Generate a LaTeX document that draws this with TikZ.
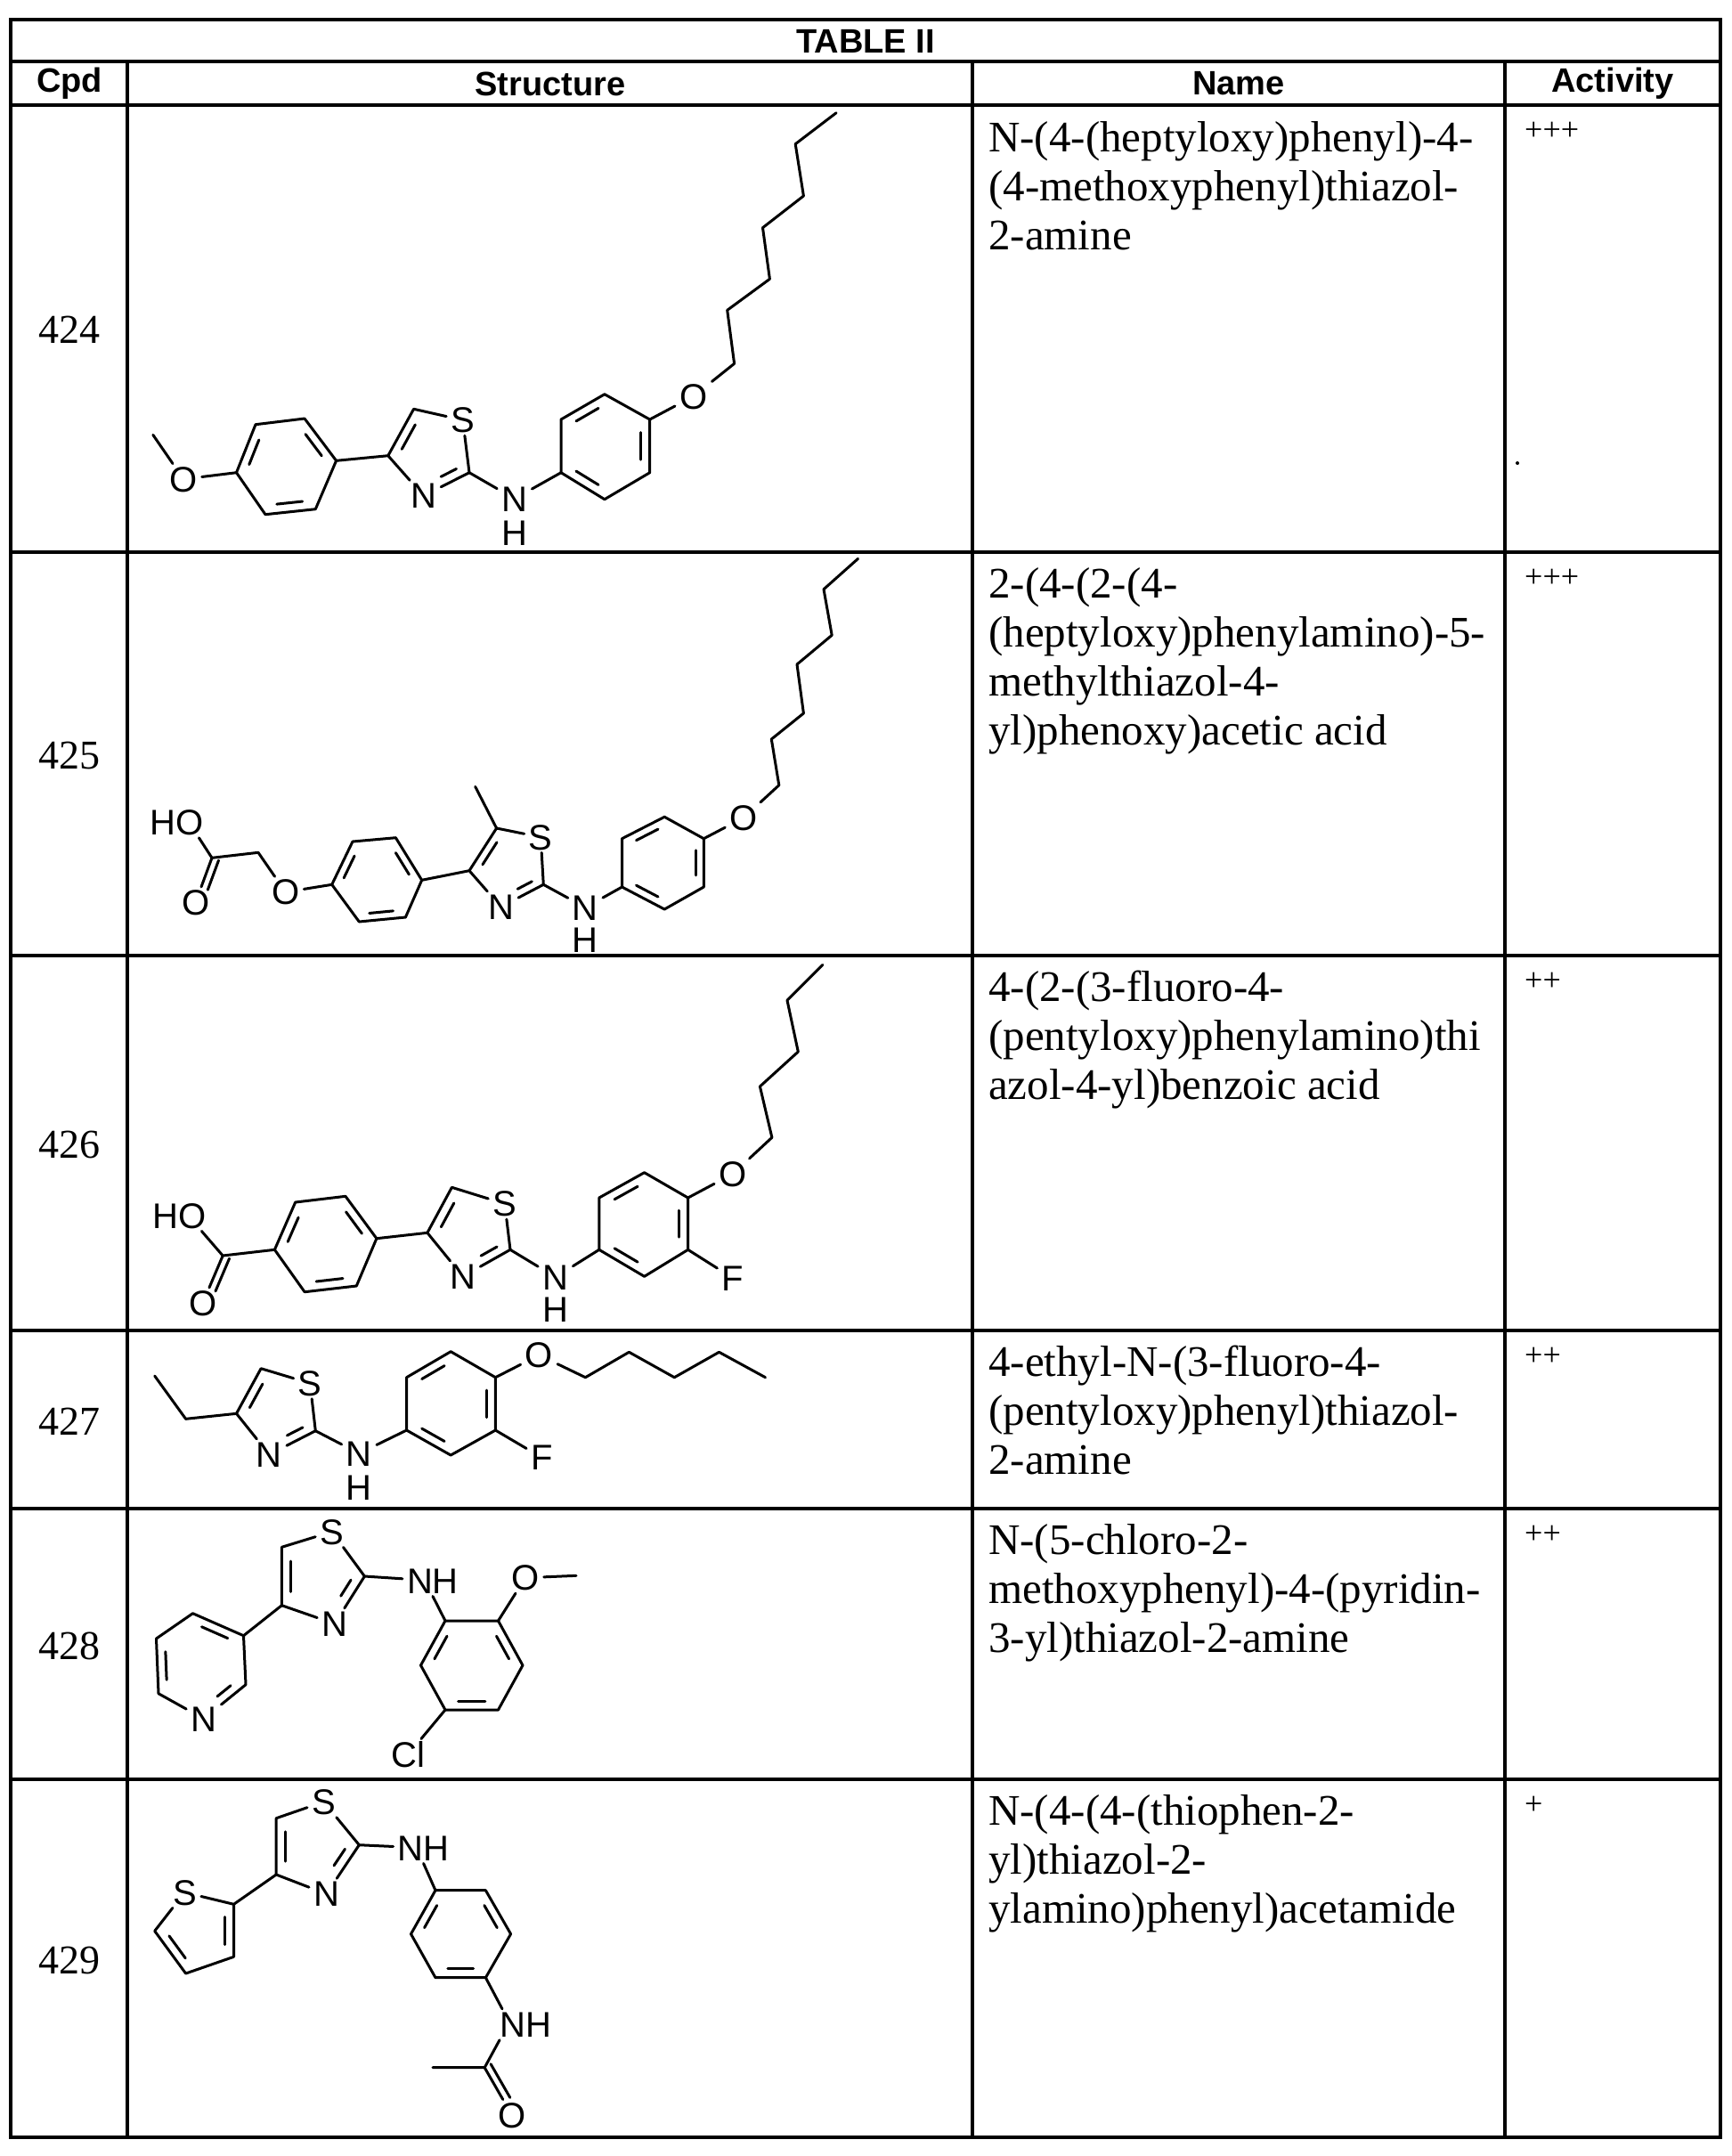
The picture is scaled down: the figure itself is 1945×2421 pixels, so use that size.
\documentclass[tikz,border=0pt]{standalone}
\usepackage{fontspec}
\setmainfont{Liberation Serif}
\newfontfamily\arialf{Liberation Sans}
\usetikzlibrary{calc}
\newcommand\hdb[3]{\draw[bond] ($(#1)!0.18!(#2)!0.2!(#3)$) -- ($(#1)!0.82!(#2)!0.2!(#3)$);}
\newcommand\pdb[5]{\draw[bond] ($(#1)!#4!(#2)!0.25!(#3)$) -- ($(#1)!#5!(#2)!0.25!(#3)$);}
\newcommand\odb[2]{\draw[bond,shorten >=18pt] ($(#1)!8pt!90:(#2)$) -- ($(#2)!8pt!-90:(#1)$);}
\newcommand\namef{\fontsize{49}{55}\selectfont}
\newcommand\cpdf{\fontsize{46}{50}\selectfont}
\newcommand\actf{\fontsize{36}{40}\selectfont}
\newcommand\headf{\arialf\bfseries\fontsize{38}{42}\selectfont}
\newcommand\atomf{\arialf\fontsize{40}{44}\selectfont}
\begin{document}
\begin{tikzpicture}[x=1pt,y=-1pt,
  bond/.style={line width=3pt,line join=round,line cap=round},
  rule/.style={line width=3.5pt},
  atom/.style={font=\atomf,inner xsep=5pt,inner ysep=3pt,text height=28.5pt,text depth=0pt},
  namebox/.style={font=\namef,align=left,anchor=north west,inner sep=0pt},
  actbox/.style={font=\actf,anchor=base west,inner sep=0pt},
  cpd/.style={font=\cpdf,inner sep=0pt},
  head/.style={font=\headf,inner sep=0pt}]
\useasboundingbox (0,0) rectangle (1945,2421);
% ---------- table ----------
\draw[rule] (12,22) rectangle (1932,2400);
\foreach \yy in {69,118,620,1073,1494,1694,1998} \draw[rule] (12,\yy) -- (1932,\yy);
\foreach \xx in {143,1092,1690} \draw[rule] (\xx,69) -- (\xx,2400);
\node[head] (title) at (972,46) {TABLE II};
\node[head] (hc) at (78,94) {Cpd};
\node[head] (hs) at (618,94) {Structure};
\node[head] (hn) at (1391,94) {Name};
\node[head] (ha) at (1811,94) {Activity};
% cpd numbers
\node[cpd] (c424) at (78,370) {424};
\node[cpd] (c425) at (78,848) {425};
\node[cpd] (c426) at (78,1285) {426};
\node[cpd] (c427) at (78,1596) {427};
\node[cpd] (c428) at (78,1848) {428};
\node[cpd] (c429) at (78,2201) {429};
% names
\node[namebox] (n424) at (1110,136) {N-(4-(heptyloxy)phenyl)-4-\\(4-methoxyphenyl)thiazol-\\2-amine};
\node[namebox] (n425) at (1110,637) {2-(4-(2-(4-\\(heptyloxy)phenylamino)-5-\\methylthiazol-4-\\yl)phenoxy)acetic acid};
\node[namebox] (n426) at (1110,1090) {4-(2-(3-fluoro-4-\\(pentyloxy)phenylamino)thi\\azol-4-yl)benzoic acid};
\node[namebox] (n427) at (1110,1511) {4-ethyl-N-(3-fluoro-4-\\(pentyloxy)phenyl)thiazol-\\2-amine};
\node[namebox] (n428) at (1110,1711) {N-(5-chloro-2-\\methoxyphenyl)-4-(pyridin-\\3-yl)thiazol-2-amine};
\node[namebox] (n429) at (1110,2015) {N-(4-(4-(thiophen-2-\\yl)thiazol-2-\\ylamino)phenyl)acetamide};
% activity
\node[actbox] (a424) at (1712,157) {+++};
\node[actbox] (a425) at (1712,659) {+++};
\node[actbox] (a426) at (1712,1112) {++};
\node[actbox] (a427) at (1712,1533) {++};
\node[actbox] (a428) at (1712,1733) {++};
\node[actbox] (a429) at (1712,2037) {+};
\fill (1704,520) circle (2pt);
% ================= 424 =================
\coordinate (aMe) at (171.8,488.3);
\node[atom] (aO1) at (206,538) {O};
\coordinate (aA1) at (265.5,530.7); \coordinate (aA2) at (287,476.7);
\coordinate (aA3) at (342,470); \coordinate (aA4) at (377.6,517.3);
\coordinate (aA5) at (354.3,571.7); \coordinate (aA6) at (298,577.7);
\coordinate (aAc) at ($(aA1)!0.5!(aA4)$);
\coordinate (aT4) at (435.8,511.7); \coordinate (aT5) at (464.6,459.3);
\node[atom] (aS) at (519.7,471.7) {S};
\coordinate (aT2) at (527,530.7);
\node[atom] (aN) at (475.6,556.7) {N};
\coordinate (aTc) at ($0.2*(aT4)+0.2*(aT5)+0.2*(aS)+0.2*(aT2)+0.2*(aN)$);
\node[atom] (aNH) at (577.8,560) {N};
\node[atom] (aH) at (577.8,598.3) {H};
\coordinate (aB1) at (630,530.7); \coordinate (aB2) at (630,471);
\coordinate (aB3) at (678.9,442.7); \coordinate (aB4) at (729.7,471);
\coordinate (aB5) at (729.7,530.7); \coordinate (aB6) at (678.9,560.7);
\coordinate (aBc) at ($(aB1)!0.5!(aB4)$);
\node[atom] (aO2) at (778.7,445) {O};
\coordinate (ak1) at (824.6,408.3); \coordinate (ak2) at (816.7,348.3);
\coordinate (ak3) at (864.4,313.3); \coordinate (ak4) at (856.5,255.7);
\coordinate (ak5) at (902.4,220); \coordinate (ak6) at (893.2,161.7);
\coordinate (ak7) at (939.1,126.7);
\draw[bond] (aMe) -- (aO1) -- (aA1);
\draw[bond] (aA1)--(aA2)--(aA3)--(aA4)--(aA5)--(aA6)--cycle;
\hdb{aA1}{aA2}{aAc}\hdb{aA3}{aA4}{aAc}\hdb{aA5}{aA6}{aAc}
\draw[bond] (aA4)--(aT4)--(aT5)--(aS)--(aT2)--(aN)--(aT4);
\pdb{aT4}{aT5}{aTc}{0.15}{0.85}\pdb{aT2}{aN}{aTc}{0.1}{0.55}
\draw[bond] (aT2)--(aNH)--(aB1);
\draw[bond] (aB1)--(aB2)--(aB3)--(aB4)--(aB5)--(aB6)--cycle;
\hdb{aB2}{aB3}{aBc}\hdb{aB4}{aB5}{aBc}\hdb{aB6}{aB1}{aBc}
\draw[bond] (aB4)--(aO2)--(ak1)--(ak2)--(ak3)--(ak4)--(ak5)--(ak6)--(ak7);
% ================= 425 =================
\node[atom] (bHO) at (198.2,923.3) {HO};
\coordinate (bC) at (238,963.3);
\node[atom] (bO1) at (219.6,1013.3) {O};
\coordinate (bCH) at (290,957.3);
\node[atom] (bO2) at (320.6,1001.7) {O};
\coordinate (bA1) at (372.7,993.3); \coordinate (bA2) at (396,945);
\coordinate (bA3) at (444.4,940.7); \coordinate (bA4) at (473.7,988.3);
\coordinate (bA5) at (455.4,1030); \coordinate (bA6) at (403.3,1035);
\coordinate (bAc) at ($(bA1)!0.5!(bA4)$);
\coordinate (bT4) at (527,977.7); \coordinate (bT5) at (557.6,930);
\node[atom] (bS) at (607.2,940) {S};
\coordinate (bT2) at (610.3,993.3);
\node[atom] (bN) at (562.5,1018.3) {N};
\coordinate (bTc) at ($0.2*(bT4)+0.2*(bT5)+0.2*(bS)+0.2*(bT2)+0.2*(bN)$);
\coordinate (bMe) at (533.7,883.3);
\node[atom] (bNH) at (657.4,1019) {N};
\node[atom] (bH) at (657.4,1055) {H};
\coordinate (bB1) at (698.5,996); \coordinate (bB2) at (698.5,941.7);
\coordinate (bB3) at (746.2,917.3); \coordinate (bB4) at (790.3,941.7);
\coordinate (bB5) at (790.3,996); \coordinate (bB6) at (746.2,1021);
\coordinate (bBc) at ($(bB1)!0.5!(bB4)$);
\node[atom] (bO3) at (835,918.3) {O};
\coordinate (bk1) at (874.8,881.7); \coordinate (bk2) at (866.3,830);
\coordinate (bk3) at (902.4,801); \coordinate (bk4) at (895,746);
\coordinate (bk5) at (934.2,713.3); \coordinate (bk6) at (925,661.7);
\coordinate (bk7) at (963.6,627.3);
\draw[bond] ([xshift=-10pt]bHO.south east) -- (bC) -- (bO1);
\odb{bC}{bO1}
\draw[bond] (bC)--(bCH)--(bO2)--(bA1);
\draw[bond] (bA1)--(bA2)--(bA3)--(bA4)--(bA5)--(bA6)--cycle;
\hdb{bA1}{bA2}{bAc}\hdb{bA3}{bA4}{bAc}\hdb{bA5}{bA6}{bAc}
\draw[bond] (bA4)--(bT4)--(bT5)--(bS)--(bT2)--(bN)--(bT4);
\draw[bond] (bT5)--(bMe);
\pdb{bT4}{bT5}{bTc}{0.15}{0.85}\pdb{bT2}{bN}{bTc}{0.1}{0.55}
\draw[bond] (bT2)--(bNH)--(bB1);
\draw[bond] (bB1)--(bB2)--(bB3)--(bB4)--(bB5)--(bB6)--cycle;
\hdb{bB2}{bB3}{bBc}\hdb{bB4}{bB5}{bBc}\hdb{bB6}{bB1}{bBc}
\draw[bond] (bB4)--(bO3)--(bk1)--(bk2)--(bk3)--(bk4)--(bk5)--(bk6)--(bk7);
% ================= 426 =================
\node[atom] (cHO) at (201.2,1365) {HO};
\coordinate (cC) at (250.2,1410);
\node[atom] (cO1) at (227.6,1463.3) {O};
\coordinate (cA1) at (308.4,1403.3); \coordinate (cA2) at (331.7,1350);
\coordinate (cA3) at (388,1343.3); \coordinate (cA4) at (422.9,1390.7);
\coordinate (cA5) at (400.3,1444); \coordinate (cA6) at (342.1,1450.7);
\coordinate (cAc) at ($(cA1)!0.5!(cA4)$);
\coordinate (cT4) at (479.9,1384.3); \coordinate (cT5) at (507.4,1333.3);
\node[atom] (cS) at (566.8,1351.7) {S};
\coordinate (cT2) at (573,1403.3);
\node[atom] (cN) at (519.7,1433.3) {N};
\coordinate (cTc) at ($0.2*(cT4)+0.2*(cT5)+0.2*(cS)+0.2*(cT2)+0.2*(cN)$);
\node[atom] (cNH) at (623.8,1434) {N};
\node[atom] (cH) at (623.8,1470) {H};
\coordinate (cB1) at (672.8,1403.3); \coordinate (cB2) at (672.8,1345);
\coordinate (cB3) at (723.6,1316.7); \coordinate (cB4) at (772.6,1345);
\coordinate (cB5) at (772.6,1403.3); \coordinate (cB6) at (723.6,1433.3);
\coordinate (cBc) at ($(cB1)!0.5!(cB4)$);
\node[atom] (cF) at (822.8,1435) {F};
\node[atom] (cO2) at (822.8,1318.3) {O};
\coordinate (ck1) at (866.9,1277.3); \coordinate (ck2) at (853.4,1220);
\coordinate (ck3) at (896.3,1181); \coordinate (ck4) at (884,1123.3);
\coordinate (ck5) at (923.8,1083.3);
\draw[bond] ([xshift=-10pt]cHO.south east) -- (cC) -- (cO1);
\odb{cC}{cO1}
\draw[bond] (cC)--(cA1);
\draw[bond] (cA1)--(cA2)--(cA3)--(cA4)--(cA5)--(cA6)--cycle;
\hdb{cA1}{cA2}{cAc}\hdb{cA3}{cA4}{cAc}\hdb{cA5}{cA6}{cAc}
\draw[bond] (cA4)--(cT4)--(cT5)--(cS)--(cT2)--(cN)--(cT4);
\pdb{cT4}{cT5}{cTc}{0.15}{0.85}\pdb{cT2}{cN}{cTc}{0.1}{0.55}
\draw[bond] (cT2)--(cNH)--(cB1);
\draw[bond] (cB1)--(cB2)--(cB3)--(cB4)--(cB5)--(cB6)--cycle;
\hdb{cB2}{cB3}{cBc}\hdb{cB4}{cB5}{cBc}\hdb{cB6}{cB1}{cBc}
\draw[bond] (cB5)--(cF);
\draw[bond] (cB4)--(cO2)--(ck1)--(ck2)--(ck3)--(ck4)--(ck5);
% ================= 427 =================
\coordinate (dE1) at (173.7,1545); \coordinate (dE2) at (208.6,1593.3);
\coordinate (dT4) at (265.5,1587.3); \coordinate (dT5) at (293.1,1536.7);
\node[atom] (dS) at (348.2,1553.3) {S};
\coordinate (dT2) at (354.3,1606.7);
\node[atom] (dN) at (302.3,1633.3) {N};
\coordinate (dTc) at ($0.2*(dT4)+0.2*(dT5)+0.2*(dS)+0.2*(dT2)+0.2*(dN)$);
\node[atom] (dNH) at (403.3,1632) {N};
\node[atom] (dH) at (403.3,1670) {H};
\coordinate (dB1) at (456.6,1606); \coordinate (dB2) at (456.6,1546.7);
\coordinate (dB3) at (506.2,1517.7); \coordinate (dB4) at (556.4,1546.7);
\coordinate (dB5) at (556.4,1606); \coordinate (dB6) at (506.2,1634);
\coordinate (dBc) at ($(dB1)!0.5!(dB4)$);
\node[atom] (dF) at (608.5,1636.7) {F};
\node[atom] (dO) at (605.4,1521.7) {O};
\coordinate (dk1) at (657.4,1546.7); \coordinate (dk2) at (706.4,1518.3);
\coordinate (dk3) at (757.3,1546.7); \coordinate (dk4) at (807.5,1518.3);
\coordinate (dk5) at (859.5,1546.7);
\draw[bond] (dE1)--(dE2)--(dT4);
\draw[bond] (dT4)--(dT5)--(dS)--(dT2)--(dN)--(dT4);
\pdb{dT4}{dT5}{dTc}{0.15}{0.85}\pdb{dT2}{dN}{dTc}{0.1}{0.55}
\draw[bond] (dT2)--(dNH)--(dB1);
\draw[bond] (dB1)--(dB2)--(dB3)--(dB4)--(dB5)--(dB6)--cycle;
\hdb{dB2}{dB3}{dBc}\hdb{dB4}{dB5}{dBc}\hdb{dB6}{dB1}{dBc}
\draw[bond] (dB5)--(dF);
\draw[bond] (dB4)--(dO)--(dk1)--(dk2)--(dk3)--(dk4)--(dk5);
% ================= 428 =================
\node[atom] (eS) at (372.7,1720) {S};
\coordinate (eT5) at (316.4,1737.3); \coordinate (eT4) at (316.4,1802.7);
\node[atom] (eN) at (375.8,1823.3) {N};
\coordinate (eT2) at (409.4,1770);
\coordinate (eTc) at ($0.2*(eT4)+0.2*(eT5)+0.2*(eS)+0.2*(eT2)+0.2*(eN)$);
\node[atom] (eNH) at (486,1775) {NH};
\coordinate (eP3) at (273.5,1836.7); \coordinate (eP2) at (216.5,1811.7);
\coordinate (eP1) at (175.5,1840); \coordinate (eP6) at (178,1901.7);
\node[atom] (ePN) at (228.8,1930) {N};
\coordinate (eP4) at (276,1891.7);
\coordinate (ePc) at (225.5,1869);
\coordinate (eR1) at (500,1820); \coordinate (eR2) at (559.5,1820);
\coordinate (eR3) at (587,1870); \coordinate (eR4) at (559.5,1920);
\coordinate (eR5) at (500,1920); \coordinate (eR6) at (472.5,1870);
\coordinate (eRc) at ($(eR1)!0.5!(eR4)$);
\node[atom] (eO) at (590,1771.7) {O};
\coordinate (eMe) at (647,1769.3);
\node[atom] (eCl) at (458.4,1970) {Cl};
\draw[bond] (eT4)--(eT5)--(eS)--(eT2)--(eN)--(eT4);
\pdb{eT4}{eT5}{eTc}{0.15}{0.85}\pdb{eT2}{eN}{eTc}{0.1}{0.55}
\draw[bond] (eT2)--(eNH);
\draw[bond] (eNH.south)--(eR1);
\draw[bond] (eT4)--(eP3);
\draw[bond] (eP3)--(eP2)--(eP1)--(eP6)--(ePN)--(eP4)--(eP3);
\hdb{eP2}{eP3}{ePc}\hdb{eP1}{eP6}{ePc}
\draw[bond] ($(eP4)!0.18!(ePN)!0.2!(ePc)$) -- ($(eP4)!0.58!(ePN)!0.2!(ePc)$);
\draw[bond] (eR1)--(eR2)--(eR3)--(eR4)--(eR5)--(eR6)--cycle;
\hdb{eR1}{eR6}{eRc}\hdb{eR2}{eR3}{eRc}\hdb{eR4}{eR5}{eRc}
\draw[bond] (eR2)--(eO)--(eMe);
\draw[bond] (eR5)--(eCl);
% ================= 429 =================
\node[atom] (fS) at (363.5,2023.3) {S};
\coordinate (fT5) at (310.2,2041.7); \coordinate (fT4) at (310.2,2105);
\node[atom] (fN) at (366.6,2126.7) {N};
\coordinate (fT2) at (403.3,2071.7);
\coordinate (fTc) at ($0.2*(fT4)+0.2*(fT5)+0.2*(fS)+0.2*(fT2)+0.2*(fN)$);
\node[atom] (fNH1) at (475.6,2075) {NH};
\coordinate (fH2) at (262.5,2138.3);
\node[atom] (fHS) at (207.4,2125) {S};
\coordinate (fH5) at (173.7,2168.3); \coordinate (fH4) at (208.6,2216);
\coordinate (fH3) at (262.5,2197.3);
\coordinate (fHc) at ($0.2*(fH2)+0.2*(fHS)+0.2*(fH5)+0.2*(fH4)+0.2*(fH3)$);
\coordinate (fR1) at (489,2122.7); \coordinate (fR2) at (545.4,2122.7);
\coordinate (fR3) at (573.6,2171.7); \coordinate (fR4) at (545.4,2220.7);
\coordinate (fR5) at (489,2220.7); \coordinate (fR6) at (461.5,2171.7);
\coordinate (fRc) at ($(fR1)!0.5!(fR4)$);
\node[atom] (fNH2) at (590.1,2273.3) {NH};
\coordinate (fC) at (544.2,2321.7); \coordinate (fMe) at (486,2321.7);
\node[atom] (fO) at (574.8,2375) {O};
\draw[bond] (fT4)--(fT5)--(fS)--(fT2)--(fN)--(fT4);
\pdb{fT4}{fT5}{fTc}{0.15}{0.85}\pdb{fT2}{fN}{fTc}{0.1}{0.55}
\draw[bond] (fT2)--(fNH1);
\draw[bond] (fNH1.south)--(fR1);
\draw[bond] (fT4)--(fH2)--(fHS)--(fH5)--(fH4)--(fH3)--(fH2);
\pdb{fH2}{fH3}{fHc}{0.15}{0.85}\pdb{fH5}{fH4}{fHc}{0.15}{0.85}
\draw[bond] (fR1)--(fR2)--(fR3)--(fR4)--(fR5)--(fR6)--cycle;
\hdb{fR1}{fR6}{fRc}\hdb{fR2}{fR3}{fRc}\hdb{fR4}{fR5}{fRc}
\draw[bond] (fR4)--([xshift=8pt]fNH2.north west);
\draw[bond] ([xshift=5pt]fNH2.south west)--(fC)--(fMe);
\draw[bond] (fC)--(fO);
\odb{fC}{fO}
\end{tikzpicture}
\end{document}
